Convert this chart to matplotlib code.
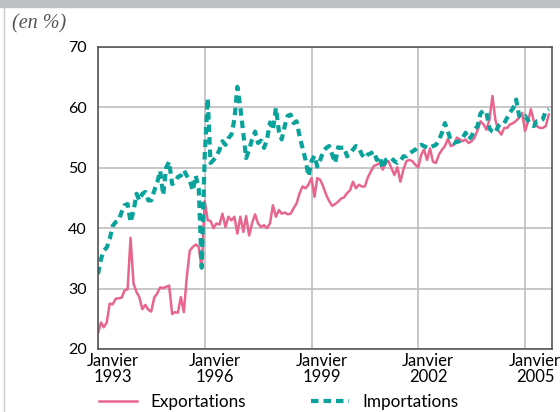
import numpy as np
import pandas as pd
import matplotlib
matplotlib.use('agg')
from matplotlib import pyplot as plt
from matplotlib.patches import Rectangle
from matplotlib.lines import Line2D
from matplotlib.transforms import ScaledTranslation

# taux mensuels (en %), janvier 1993 -> septembre 2005
exportations = [
    22.6, 24.4, 23.6, 24.4, 27.5, 27.4, 28.3, 28.4, 28.5, 29.7, 29.9, 38.4,
    30.8, 29.4, 28.6, 26.6, 27.3, 26.5, 26.2, 28.5, 29.2, 30.2, 30.1, 30.3,
    30.5, 25.8, 26.1, 26.0, 28.6, 26.1, 31.9, 36.3, 36.9, 37.3, 36.9, 33.3,
    44.5, 41.3, 41.2, 40.0, 40.8, 40.6, 42.4, 40.2, 41.9, 41.3, 41.9, 39.1,
    41.9, 39.4, 42.0, 38.8, 40.8, 42.3, 40.8, 40.2, 40.5, 40.0, 40.8, 43.8,
    41.9, 43.0, 42.4, 42.6, 42.3, 42.4, 43.3, 44.1, 45.8, 46.9, 46.6, 47.2,
    48.3, 45.2, 48.3, 48.0, 46.9, 45.5, 44.5, 43.7, 44.0, 44.4, 44.9, 45.1,
    45.8, 46.3, 47.7, 46.6, 47.2, 46.9, 46.9, 48.4, 49.4, 50.3, 50.5, 50.8,
    49.7, 50.8, 51.1, 49.9, 48.8, 50.1, 47.7, 49.7, 51.1, 51.3, 51.1, 50.5,
    50.1, 52.2, 53.0, 51.3, 53.2, 51.0, 50.8, 52.2, 53.0, 53.6, 54.8, 53.6,
    53.8, 55.0, 54.7, 54.4, 54.7, 54.1, 54.4, 55.0, 56.2, 57.7, 57.2, 56.3,
    58.0, 61.9, 58.0, 56.2, 55.5, 56.6, 56.6, 57.2, 57.4, 57.8, 58.3, 59.1,
    56.1, 57.7, 59.7, 57.7, 56.9, 56.6, 56.6, 56.9, 58.8,
]
importations = [
    32.4, 34.9, 36.3, 36.8, 38.2, 40.4, 41.0, 41.3, 42.7, 43.8, 44.0, 41.0,
    42.9, 45.7, 44.6, 45.7, 46.0, 44.6, 44.6, 46.2, 47.6, 49.5, 45.5, 50.0,
    51.0, 47.3, 47.6, 48.5, 48.7, 49.6, 48.7, 47.9, 46.2, 48.7, 46.5, 33.5,
    52.0, 61.5, 50.8, 51.3, 51.9, 53.0, 54.4, 53.8, 54.9, 55.5, 58.0, 63.4,
    60.0, 55.5, 51.6, 53.0, 54.7, 56.0, 54.1, 54.5, 53.3, 54.7, 57.5, 56.3,
    59.9, 56.0, 54.7, 56.9, 58.6, 58.8, 57.4, 57.7, 55.2, 53.3, 51.3, 48.6,
    51.1, 52.0, 50.2, 51.3, 52.7, 53.3, 53.6, 52.2, 50.8, 53.4, 53.3, 53.4,
    51.9, 52.4, 53.0, 53.6, 53.3, 52.2, 51.6, 52.2, 52.4, 52.7, 51.3, 51.9,
    49.9, 51.3, 51.6, 51.6, 51.1, 50.8, 51.1, 51.9, 51.9, 52.4, 52.7, 53.0,
    53.6, 53.8, 53.6, 53.3, 53.3, 53.6, 53.8, 54.6, 55.8, 57.4, 56.0, 54.5,
    54.1, 54.3, 54.4, 54.9, 55.8, 54.7, 55.2, 56.3, 56.9, 59.0, 59.5, 59.2,
    56.5, 56.0, 55.8, 56.9, 57.4, 57.4, 58.3, 59.2, 59.9, 61.3, 58.6, 58.3,
    58.6, 57.8, 57.2, 56.9, 57.7, 57.7, 58.0, 59.4, 59.7,
]
annees = [1993, 1996, 1999, 2002, 2005]
y_ticks = [20, 30, 40, 50, 60, 70]

ROSE = '#E8668E'
TURQ = '#0AA39C'

dates = pd.date_range('1993-01-01', periods=len(exportations), freq='MS')

fig = plt.figure(figsize=(5.6, 4.12), dpi=100)
ax = fig.add_axes([98 / 560, 1 - 349 / 412, 454 / 560, 302 / 412])

ax.plot(dates, exportations, color=ROSE, lw=1.8, label='Exportations')
ax.plot(dates, importations, color=TURQ, lw=3.0, linestyle=(0, (1.8, 1.2)),
        label='Importations')

ax.set_xlim(pd.Timestamp('1993-01-01'), pd.Timestamp('2005-10-04'))
ax.set_ylim(20, 70)

xt = [pd.Timestamp(f'{a}-01-01') for a in annees]
ax.set_xticks(xt)
ax.set_xticklabels([f'Janvier\n{a}' for a in annees], family='Lato',
                   fontsize=12, linespacing=0.95)
ax.set_yticks(y_ticks)
ax.set_yticklabels([str(v) for v in y_ticks], family='Lato', fontsize=11.5)
ax.tick_params(axis='both', length=0)
ax.tick_params(axis='x', pad=3)
ax.tick_params(axis='y', pad=8)

# labels decales un peu a droite des lignes de grille
for i, lab in enumerate(ax.get_xticklabels()):
    dx = 15 if i == 0 else 10
    lab.set_transform(lab.get_transform() +
                      ScaledTranslation(dx / 100, 0, fig.dpi_scale_trans))

ax.grid(True, color='#BDBDBD', lw=1.2)
ax.set_axisbelow(True)
for s in ax.spines.values():
    s.set_color('#4A4A4A')
    s.set_linewidth(1.1)

fig.legend(loc='center left', bbox_to_anchor=(99 / 560, 1 - 402 / 412),
           ncol=2, frameon=False, borderaxespad=0, borderpad=0,
           handlelength=2.25, handletextpad=0.75, columnspacing=3.8,
           prop={'family': 'Lato', 'size': 12.3})

fig.text(12 / 560, 1 - 24 / 412, '(en %)', family='Liberation Serif',
         style='italic', fontsize=14.5, color='#555555', va='center')

# cadre gris
fig.patches.append(Rectangle((0, 1 - 7 / 412), 1, 7 / 412,
                             transform=fig.transFigure, color='#BEBFC3'))
fig.lines.append(Line2D([4 / 560, 4 / 560], [0, 1 - 7 / 412],
                        transform=fig.transFigure, color='#C8C8C8', lw=1))

fig.savefig('out.png', dpi=100)
